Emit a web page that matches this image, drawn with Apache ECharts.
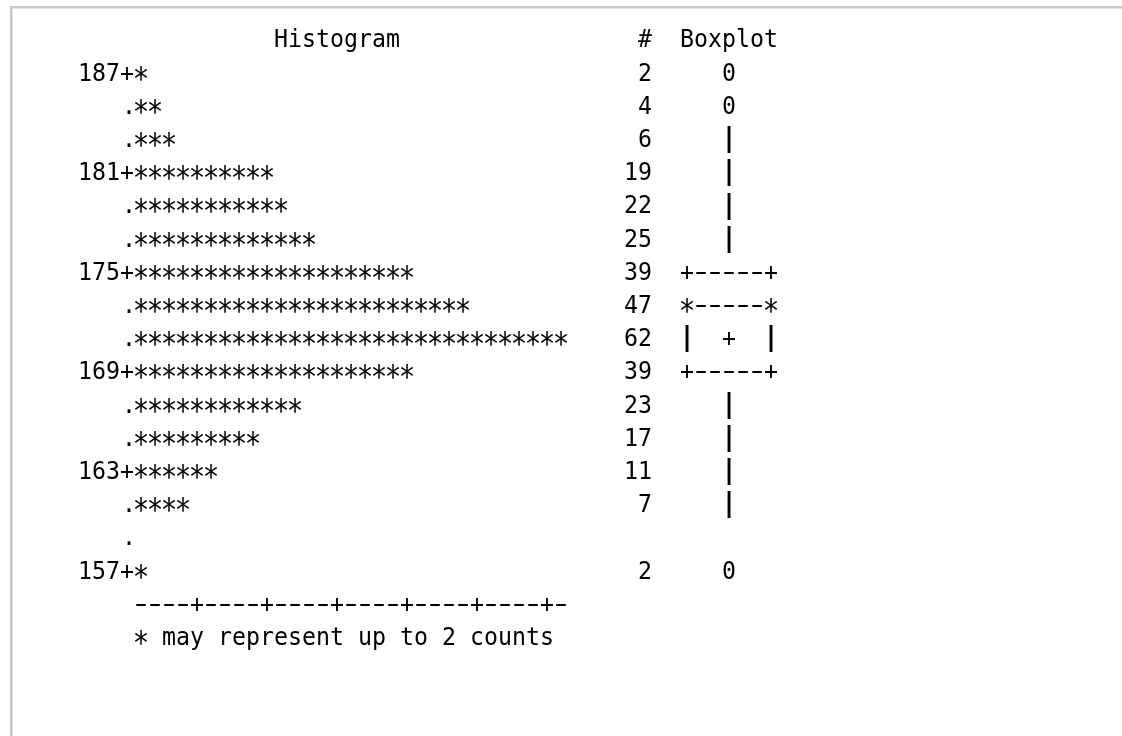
<!DOCTYPE html>
<html>
<head>
<meta charset="utf-8">
<title>Histogram</title>
<script src="https://cdn.jsdelivr.net/npm/echarts@6/dist/echarts.min.js"></script>
<style>
    html, body { margin: 0; padding: 0; background: #fff; }
    #main { width: 1122px; height: 736px; }
</style>
</head>
<body>
<div id="main"></div>
<script>
// histogram bins (midpoints), counts per bin, boxplot column per row
var binMid = [187, 185, 183, 181, 179, 177, 175, 173, 171, 169, 167, 165, 163, 161, 159, 157];
var counts = [2, 4, 6, 19, 22, 25, 39, 47, 62, 39, 23, 17, 11, 7, 0, 2];
var boxRows = ['0', '0', '|', '|', '|', '|', '+-----+', '*-----*', '|  +  |', '+-----+', '|', '|', '|', '|', '', '0'];
var countsPerStar = 2;
var tickEvery = 5;
var axisLength = 31;
var headers = ['Histogram', '#', 'Boxplot'];
var footnote = '* may represent up to ' + countsPerStar + ' counts';

var FONT = '25px "DejaVu Sans Mono"';
var SCALE_X = 0.93;

// per-glyph tweaks so the mono font looks closer to the printout
function glyphStyle(ch) {
    if (ch === '*') return { sx: 1.1, sy: 1.25, dy: 6.5 };
    if (ch === '-') return { sx: 1.5, sy: 1, dy: 0 };
    if (ch === '|') return { sx: 1.4, sy: 1.05, dy: -1 };
    if (ch === '.') return { sx: SCALE_X, sy: 1, dy: 0, dx: 2 };
    return { sx: SCALE_X, sy: 1, dy: 0 };
}

// character cells: [column, row, text]
var cells = [];
cells.push([14, -1, headers[0]]);
cells.push([40, -1, headers[1]]);
cells.push([43, -1, headers[2]]);

binMid.forEach(function (mid, i) {
    if (i % 3 === 0) {
        cells.push([0, i, mid + '+']);
    } else {
        cells.push([3, i, '.']);
    }
    var nStars = Math.ceil(counts[i] / countsPerStar);
    if (nStars > 0) {
        cells.push([4, i, new Array(nStars + 1).join('*')]);
    }
    if (counts[i] > 0) {
        var s = String(counts[i]);
        cells.push([41 - s.length, i, s]);
    }
    if (boxRows[i]) {
        cells.push([46 - Math.floor(boxRows[i].length / 2), i, boxRows[i]]);
    }
});

var axisText = '';
for (var k = 1; k <= axisLength; k++) {
    axisText += (k % tickEvery === 0) ? '+' : '-';
}
cells.push([4, binMid.length, axisText]);
cells.push([4, binMid.length + 1, footnote]);

function renderCell(params, api) {
    var c = cells[params.dataIndex];
    var p = api.coord([c[0] + 0.5, c[1]]);
    var step = api.size([1, 0])[0];
    var children = [];
    for (var j = 0; j < c[2].length; j++) {
        var ch = c[2].charAt(j);
        if (ch === ' ') continue;
        var g = glyphStyle(ch);
        children.push({
            type: 'text',
            x: p[0] + j * step + (g.dx || 0),
            y: p[1] + g.dy,
            scaleX: g.sx,
            scaleY: g.sy,
            style: {
                text: ch,
                font: FONT,
                fill: '#000',
                align: 'center',
                verticalAlign: 'middle'
            }
        });
    }
    return { type: 'group', children: children };
}

var myChart = echarts.init(document.getElementById('main'));
myChart.setOption({
    backgroundColor: '#fff',
    animation: false,
    grid: { left: 78, right: 8, top: 1, bottom: 4.6 },
    xAxis: { type: 'value', min: 0, max: 74, show: false },
    yAxis: { type: 'value', min: -2.2, max: 19.8, inverse: true, show: false },
    graphic: [
        { type: 'line', shape: { x1: 10, y1: 7.3, x2: 1122, y2: 7.3 }, style: { stroke: '#c8c8c8', lineWidth: 2.5 } },
        { type: 'line', shape: { x1: 11.3, y1: 6, x2: 11.3, y2: 736 }, style: { stroke: '#c8c8c8', lineWidth: 2.5 } }
    ],
    series: [
        {
            type: 'custom',
            renderItem: renderCell,
            data: cells.map(function (c) { return [c[0], c[1]]; }),
            clip: false,
            silent: true
        }
    ]
});
</script>
</body>
</html>
